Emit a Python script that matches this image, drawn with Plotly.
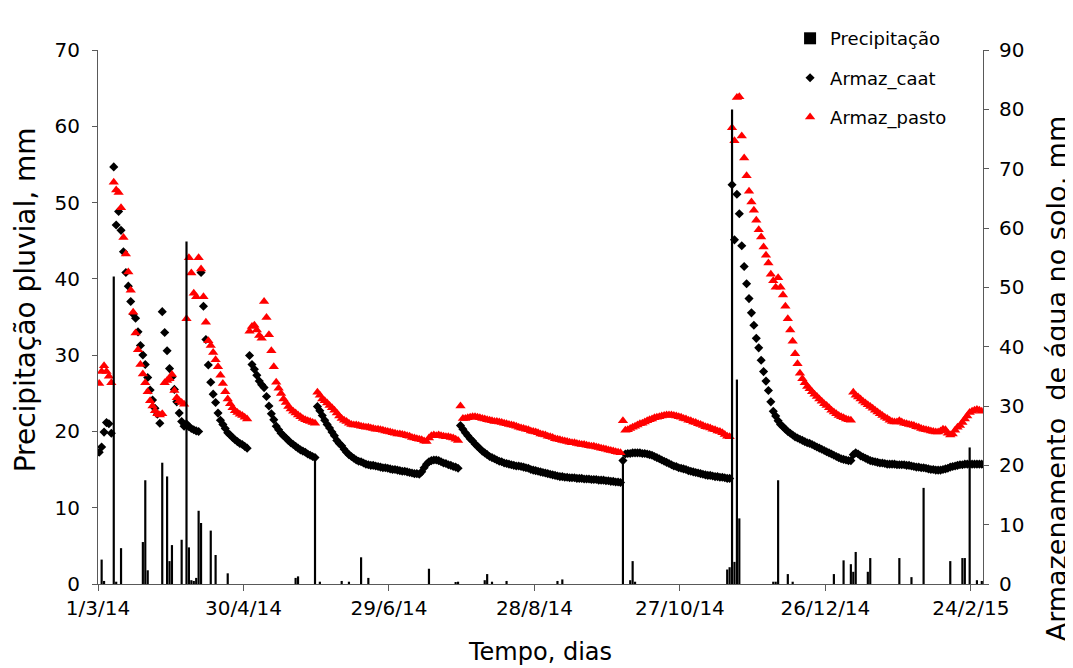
import pandas as pd
import plotly.graph_objects as go

# daily soil water storage (mm), one value per day from 1/3/14 to 28/2/15
START = "2014-03-01"

armaz_caat = [
    22.2, 23.1, 25.6, 27.2, 27.0, 25.4, 70.3, 60.5, 62.8, 59.6,
    56.0, 52.5, 50.2, 47.6, 45.5, 44.8, 42.5, 40.2, 38.6, 37.0,
    34.8, 32.7, 31.0, 29.6, 28.6, 27.1, 45.9, 42.4, 39.3, 36.3,
    34.9, 32.8, 30.7, 28.8, 27.4, 26.6, 27.0, 26.5, 26.2, 26.0,
    25.8, 25.7, 52.5, 46.8, 41.2, 36.9, 34.0, 32.0, 30.6, 28.8,
    27.6, 26.9, 26.2, 25.5, 25.1, 24.7, 24.3, 24.0, 23.7, 23.5,
    23.2, 22.9, 38.5, 37.0, 36.2, 35.2, 34.2, 33.6, 33.1, 31.6,
    30.0, 28.7, 27.7, 26.6, 26.0, 25.4, 25.0, 24.6, 24.2, 23.8,
    23.5, 23.2, 22.9, 22.6, 22.4, 22.2, 21.9, 21.7, 21.5, 21.3,
    29.9, 29.2, 28.4, 27.6, 26.9, 26.3, 25.6, 25.0, 24.2, 23.7,
    23.3, 22.7, 22.2, 21.8, 21.5, 21.2, 20.9, 20.7, 20.6, 20.4,
    20.2, 20.1, 20.0, 20.0, 19.9, 19.8, 19.7, 19.6, 19.6, 19.5,
    19.4, 19.3, 19.3, 19.2, 19.1, 19.0, 19.0, 18.9, 18.8, 18.7,
    18.6, 18.6, 18.5, 18.9, 19.6, 20.2, 20.6, 20.8, 20.9, 20.9,
    20.8, 20.6, 20.4, 20.3, 20.1, 20.0, 19.8, 19.7, 19.5, 26.7,
    26.1, 25.5, 25.0, 24.5, 24.1, 23.6, 23.2, 22.8, 22.4, 22.1,
    21.8, 21.5, 21.3, 21.1, 20.9, 20.7, 20.6, 20.4, 20.3, 20.2,
    20.1, 20.0, 19.9, 19.9, 19.8, 19.7, 19.6, 19.5, 19.3, 19.2,
    19.1, 19.0, 18.9, 18.8, 18.7, 18.6, 18.5, 18.4, 18.3, 18.2,
    18.1, 18.1, 18.0, 18.0, 17.9, 17.9, 17.9, 17.8, 17.8, 17.8,
    17.7, 17.7, 17.7, 17.6, 17.6, 17.6, 17.5, 17.5, 17.5, 17.4,
    17.4, 17.3, 17.3, 17.2, 17.2, 17.1, 20.8, 21.9, 22.0, 22.0,
    22.1, 22.1, 22.1, 22.1, 22.0, 22.0, 21.9, 21.8, 21.7, 21.5,
    21.3, 21.1, 20.9, 20.7, 20.5, 20.3, 20.1, 19.9, 19.8, 19.6,
    19.5, 19.4, 19.3, 19.1, 19.0, 18.9, 18.8, 18.7, 18.6, 18.5,
    18.4, 18.3, 18.3, 18.2, 18.1, 18.1, 18.0, 18.0, 17.9, 17.8,
    17.8, 67.3, 58.0, 65.7, 62.4, 57.0, 53.5, 50.6, 48.1, 45.7,
    43.6, 41.4, 39.8, 37.7, 35.8, 34.2, 32.6, 30.7, 29.1, 28.3,
    27.5, 26.9, 26.5, 26.1, 25.7, 25.4, 25.1, 24.8, 24.6, 24.4,
    24.2, 24.0, 23.8, 23.7, 23.5, 23.3, 23.1, 22.9, 22.7, 22.5,
    22.3, 22.1, 21.9, 21.7, 21.5, 21.3, 21.1, 21.0, 20.9, 20.8,
    20.8, 21.8, 22.1, 21.9, 21.6, 21.4, 21.2, 21.0, 20.8, 20.7,
    20.6, 20.5, 20.4, 20.4, 20.3, 20.2, 20.2, 20.2, 20.2, 20.1,
    20.1, 20.1, 20.1, 20.0, 20.0, 19.9, 19.8, 19.7, 19.7, 19.6,
    19.6, 19.5, 19.4, 19.3, 19.3, 19.2, 19.2, 19.2, 19.3, 19.4,
    19.5, 19.7, 19.8, 19.9, 20.0, 20.1, 20.1, 20.2, 20.2, 20.2,
    20.2, 20.2, 20.2, 20.2, 20.2,
]

armaz_pasto = [
    33.8, 35.8, 36.8, 35.8, 35.0, 33.9, 67.7, 66.4, 66.0, 63.4,
    58.4, 55.6, 52.6, 49.5, 45.8, 42.3, 39.5, 37.0, 35.4, 33.9,
    32.4, 30.9, 30.0, 29.2, 28.7, 28.5, 28.7, 33.9, 34.3, 34.6,
    35.3, 32.6, 31.4, 30.9, 30.6, 30.3, 44.7, 55.0, 52.4, 49.0,
    48.4, 55.0, 53.1, 48.4, 44.1, 41.0, 40.2, 39.0, 37.8, 36.6,
    35.2, 33.8, 32.4, 31.2, 30.4, 29.7, 29.2, 28.9, 28.6, 28.4,
    28.1, 27.8, 42.6, 43.4, 43.6, 42.8, 41.9, 41.4, 47.6, 44.9,
    42.0, 39.3, 36.6, 34.0, 33.0, 32.1, 31.2, 30.6, 29.9, 29.5,
    29.1, 28.8, 28.5, 28.2, 27.9, 27.7, 27.5, 27.4, 27.2, 27.1,
    32.3, 31.8, 31.2, 30.9, 30.5, 30.1, 29.7, 29.3, 28.8, 28.3,
    27.9, 27.6, 27.4, 27.1, 26.9, 26.8, 26.8, 26.7, 26.6, 26.5,
    26.4, 26.4, 26.3, 26.2, 26.1, 26.1, 26.0, 25.9, 25.8, 25.7,
    25.6, 25.5, 25.4, 25.3, 25.3, 25.2, 25.1, 25.0, 24.9, 24.7,
    24.6, 24.5, 24.4, 24.3, 24.1, 24.0, 24.6, 25.0, 25.1, 25.0,
    25.1, 25.0, 24.9, 24.8, 24.8, 24.7, 24.6, 24.4, 24.2, 30.0,
    27.9, 27.9, 28.0, 28.1, 28.2, 28.2, 28.1, 28.0, 27.9, 27.8,
    27.7, 27.6, 27.5, 27.4, 27.4, 27.3, 27.2, 27.1, 27.0, 26.9,
    26.8, 26.7, 26.6, 26.4, 26.3, 26.2, 26.1, 26.0, 25.8, 25.7,
    25.6, 25.5, 25.3, 25.2, 25.1, 24.9, 24.8, 24.7, 24.5, 24.4,
    24.3, 24.2, 24.1, 24.0, 23.9, 23.8, 23.8, 23.7, 23.6, 23.5,
    23.5, 23.4, 23.3, 23.2, 23.2, 23.1, 23.0, 22.9, 22.8, 22.7,
    22.6, 22.5, 22.4, 22.3, 22.2, 22.1, 27.5, 25.9, 26.0, 26.2,
    26.4, 26.6, 26.8, 27.0, 27.1, 27.3, 27.5, 27.7, 27.8, 28.0,
    28.1, 28.2, 28.3, 28.4, 28.5, 28.5, 28.5, 28.4, 28.3, 28.2,
    28.1, 27.9, 27.8, 27.6, 27.5, 27.3, 27.2, 27.0, 26.9, 26.7,
    26.5, 26.4, 26.3, 26.1, 26.0, 25.8, 25.7, 25.5, 25.2, 24.9,
    24.8, 76.9, 74.7, 82.0, 82.1, 75.5, 71.8, 68.8, 66.2, 64.4,
    63.0, 61.3, 59.7, 58.5, 56.8, 55.4, 54.1, 52.2, 51.1, 50.0,
    51.6, 50.0, 48.7, 46.8, 44.7, 42.8, 40.9, 38.8, 37.1, 35.5,
    34.6, 33.9, 33.3, 32.9, 32.4, 32.0, 31.6, 31.2, 30.8, 30.4,
    30.1, 29.7, 29.3, 29.0, 28.7, 28.4, 28.2, 28.0, 27.8, 27.7,
    27.6, 32.3, 31.8, 31.5, 31.2, 30.8, 30.5, 30.2, 29.9, 29.6,
    29.3, 29.0, 28.7, 28.4, 28.1, 27.9, 27.6, 27.4, 27.3, 27.3,
    27.5, 27.3, 27.1, 27.0, 26.9, 26.8, 26.7, 26.5, 26.4, 26.2,
    26.1, 26.0, 25.9, 25.8, 25.7, 25.6, 25.6, 25.8, 26.1, 26.0,
    25.4, 25.1, 25.3, 25.9, 26.4, 26.7, 27.2, 27.8, 28.3, 28.9,
    29.1, 29.3, 29.4, 29.3, 29.1,
]

# rainy days: day index from 1/3/14 and rainfall (mm)
rain_day = [
    1, 2, 6, 7, 9, 18, 19, 20, 26, 28, 29, 30, 34, 36, 37, 38, 39, 40, 41, 42,
    46, 48, 53, 81, 82, 89, 91, 100, 103, 108, 111, 136, 147, 148, 159, 160,
    162, 168, 189, 191, 216, 219, 220, 221, 259, 260, 261, 262, 263, 264,
    278, 279, 280, 284, 286, 303, 307, 310, 311, 312, 317, 318, 330, 335,
    340, 351, 356, 357, 359, 362, 364,
]
rain_mm = [
    3.2, 0.4, 40.3, 0.3, 4.7, 5.5, 13.6, 1.8, 15.9, 14.1, 3.0, 5.1, 5.8, 44.9,
    4.8, 0.5, 0.4, 0.8, 9.6, 8.0, 7.0, 3.8, 1.4, 0.8, 1.0, 17.0, 0.3, 0.4, 0.3,
    3.5, 0.8, 2.0, 0.2, 0.3, 0.5, 1.3, 0.3, 0.4, 0.4, 0.6, 16.1, 0.5, 3.0, 0.3,
    1.9, 2.2, 62.2, 2.9, 26.8, 8.6, 0.3, 0.3, 13.6, 1.3, 0.3, 1.3, 3.1, 2.6,
    1.6, 4.2, 1.6, 3.4, 3.4, 0.9, 12.6, 3.0, 3.4, 3.4, 17.9, 0.5, 0.4,
]

tick_dates = ["2014-03-01", "2014-04-30", "2014-06-29", "2014-08-28",
              "2014-10-27", "2014-12-26", "2015-02-24"]
tick_text = ["1/3/14", "30/4/14", "29/6/14", "28/8/14", "27/10/14", "26/12/14", "24/2/15"]

t0 = pd.Timestamp(START) + pd.Timedelta(hours=12)
days = pd.date_range(t0, periods=len(armaz_caat), freq="D")
rain_x = [t0 + pd.Timedelta(days=d) for d in rain_day]

FONT = "DejaVu Sans, Verdana, sans-serif"
AX = "#595959"

fig = go.Figure()
fig.add_trace(go.Scatter(
    x=days, y=armaz_caat, mode="markers", name="Armaz_caat", yaxis="y",
    legendgroup="b", legendrank=2,
    marker=dict(symbol="diamond", size=7, color="black"),
))
fig.add_trace(go.Scatter(
    x=days, y=armaz_pasto, mode="markers", name="Armaz_pasto", yaxis="y",
    legendgroup="c", legendrank=3,
    marker=dict(symbol="triangle-up", size=9, color="#ff0000"),
))
fig.add_trace(go.Bar(
    x=rain_x, y=rain_mm, name="Precipitação", yaxis="y2",
    legendgroup="a", legendrank=1,
    marker=dict(color="black", line=dict(width=0)),
    width=0.9 * 86400000,
))

axis_common = dict(
    showline=True, linecolor=AX, linewidth=1, ticks="outside", tickcolor=AX,
    showgrid=False, zeroline=False,
    tickfont=dict(family=FONT, size=20, color="black"),
)


def title_font(size):
    return dict(family=FONT, size=size, color="black")


fig.update_layout(
    # the page body adds an 8px margin, so the figure is a bit smaller than the window
    width=1065, height=660,
    margin=dict(l=90, r=90, t=17, b=84),
    paper_bgcolor="white", plot_bgcolor="white",
    font=dict(family=FONT, color="black"),
    showlegend=True,
    legend=dict(
        x=0.782, y=1.056, xanchor="left", yanchor="top",
        bgcolor="rgba(0,0,0,0)", font=dict(family=FONT, size=18),
        tracegroupgap=13, itemwidth=30,
    ),
    xaxis=dict(
        type="date", range=["2014-03-01", "2015-03-01"],
        tickvals=tick_dates, ticktext=tick_text, ticklen=6,
        **axis_common,
    ),
    yaxis=dict(
        range=[0, 90], dtick=10, side="right", ticklen=5, ticklabelstandoff=6,
        **axis_common,
    ),
    yaxis2=dict(
        range=[0, 70], dtick=10, side="left", overlaying="y", ticklen=5,
        ticklabelstandoff=8,
        **axis_common,
    ),
    annotations=[
        dict(text="Precipitação pluvial, mm", textangle=-90, xref="paper", yref="paper",
             x=-0.0825, y=0.533, xanchor="center", yanchor="middle", showarrow=False,
             font=title_font(28)),
        dict(text="Armazenamento  de água no solo, mm", textangle=-90, xref="paper", yref="paper",
             x=1.083, y=0.386, xanchor="center", yanchor="middle", showarrow=False,
             font=title_font(27)),
        dict(text="Tempo, dias", xref="paper", yref="paper",
             x=0.499, y=-0.127, xanchor="center", yanchor="middle", showarrow=False,
             font=title_font(24)),
    ],
)

fig.write_html("out.html")
